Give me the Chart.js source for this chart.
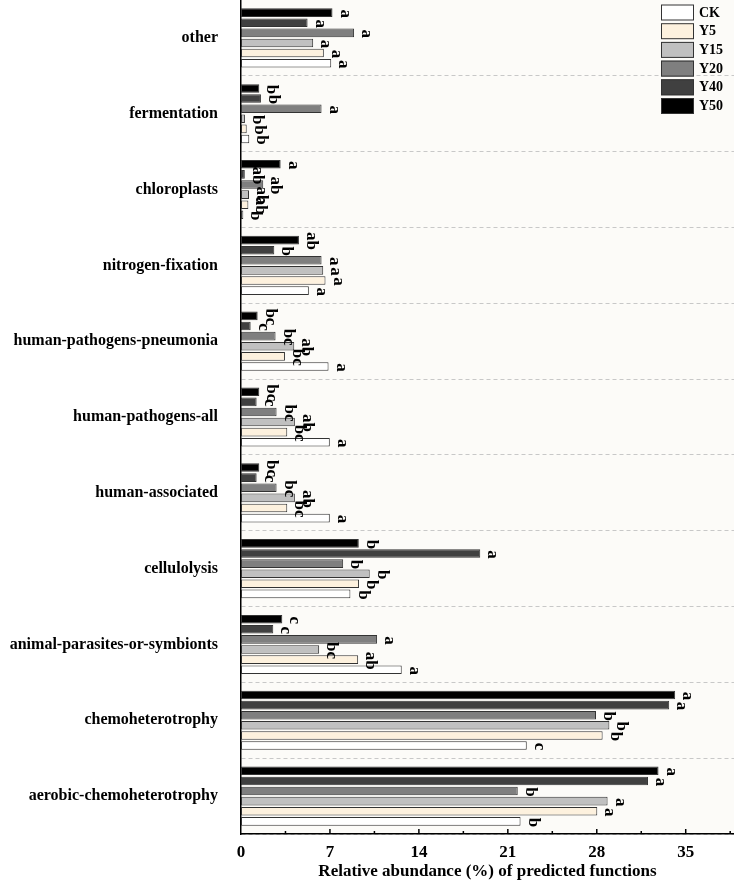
<!DOCTYPE html>
<html>
<head>
<meta charset="utf-8">
<script src="https://cdn.jsdelivr.net/npm/chart.js@4"></script>
<style>
  body { margin: 0; background: #fff; }
  canvas { display: block; }
</style>
</head>
<body>
<canvas id="chart" width="734" height="884"></canvas>
<script>
// categories, top to bottom
const categories = ['other', 'fermentation', 'chloroplasts', 'nitrogen-fixation',
  'human-pathogens-pneumonia', 'human-pathogens-all', 'human-associated', 'cellulolysis',
  'animal-parasites-or-symbionts', 'chemoheterotrophy', 'aerobic-chemoheterotrophy'];

// relative abundance (%) per group
const CK  = [7.1, 0.65, 0.18, 5.34, 6.89, 6.99, 6.99, 8.61, 12.65, 22.49, 22.0];
const Y5  = [6.52, 0.45, 0.58, 6.65, 3.46, 3.64, 3.64, 9.29, 9.22, 28.46, 28.04];
const Y15 = [5.68, 0.31, 0.63, 6.47, 4.19, 4.24, 4.24, 10.13, 6.15, 28.99, 28.85];
const Y20 = [8.9, 6.34, 1.75, 6.34, 2.72, 2.8, 2.8, 8.04, 10.71, 27.94, 21.78];
const Y40 = [5.24, 1.57, 0.3, 2.62, 0.76, 1.23, 1.23, 18.83, 2.54, 33.7, 32.03];
const Y50 = [7.2, 1.44, 3.12, 4.56, 1.31, 1.44, 1.44, 9.27, 3.25, 34.17, 32.86];

// significance letters
const lettersCK  = ['a', 'b', 'b', 'a', 'a', 'a', 'a', 'b', 'a', 'c', 'b'];
const lettersY5  = ['a', 'b', 'ab', 'a', 'bc', 'bc', 'bc', 'b', 'ab', 'b', 'a'];
const lettersY15 = ['a', 'b', 'ab', 'a', 'ab', 'ab', 'ab', 'b', 'bc', 'b', 'a'];
const lettersY20 = ['a', 'a', 'ab', 'a', 'bc', 'bc', 'bc', 'b', 'a', 'b', 'b'];
const lettersY40 = ['a', 'b', 'ab', 'b', 'c', 'c', 'c', 'a', 'c', 'a', 'a'];
const lettersY50 = ['a', 'b', 'a', 'ab', 'bc', 'bc', 'bc', 'b', 'c', 'a', 'a'];

const xTicks = [0, 7, 14, 21, 28, 35];

const serif = '"Liberation Serif", "Times New Roman", serif';

// drawn top-to-bottom inside each category
const groups = [
  {label: 'Y50', data: Y50, letters: lettersY50, color: '#000000'},
  {label: 'Y40', data: Y40, letters: lettersY40, color: '#404040'},
  {label: 'Y20', data: Y20, letters: lettersY20, color: '#7f7f7f'},
  {label: 'Y15', data: Y15, letters: lettersY15, color: '#c0c0c0'},
  {label: 'Y5',  data: Y5,  letters: lettersY5,  color: '#fdf1de'},
  {label: 'CK',  data: CK,  letters: lettersCK,  color: '#ffffff'}
];

const plotBg = {
  id: 'plotBg',
  beforeDraw(chart) {
    const {ctx, chartArea: a} = chart;
    ctx.save();
    ctx.fillStyle = '#fcfbf8';
    ctx.fillRect(a.left, a.top, a.right - a.left, a.bottom - a.top);
    ctx.restore();
  }
};

// inward ticks on the x axis, major every 7, minor in between
const innerTicks = {
  id: 'innerTicks',
  afterDraw(chart) {
    const {ctx} = chart;
    const x = chart.scales.x;
    ctx.save();
    ctx.strokeStyle = '#000';
    ctx.lineWidth = 1.5;
    for (let v = 3.5; v <= x.max; v += 3.5) {
      const px = x.getPixelForValue(v);
      const len = (v % 7 === 0) ? 5 : 3;
      ctx.beginPath();
      ctx.moveTo(px, x.top);
      ctx.lineTo(px, x.top - len);
      ctx.stroke();
    }
    ctx.restore();
  }
};

// letters rotated 90deg clockwise next to each bar
const barLetters = {
  id: 'barLetters',
  afterDatasetsDraw(chart) {
    const {ctx} = chart;
    ctx.save();
    ctx.font = 'bold 17px ' + serif;
    ctx.fillStyle = '#000';
    chart.data.datasets.forEach((ds, i) => {
      const meta = chart.getDatasetMeta(i);
      meta.data.forEach((bar, j) => {
        ctx.save();
        ctx.translate(bar.x + 4, bar.y + 1);
        ctx.rotate(Math.PI / 2);
        ctx.textAlign = 'center';
        ctx.textBaseline = 'bottom';
        ctx.fillText(ds.letters[j], 0, 0);
        ctx.restore();
      });
    });
    ctx.restore();
  }
};

// legend inside the plot, CK first
const boxLegend = {
  id: 'boxLegend',
  afterDraw(chart) {
    const {ctx, chartArea: a} = chart;
    const list = chart.data.datasets.slice().reverse();
    ctx.save();
    ctx.font = 'bold 14px ' + serif;
    ctx.textBaseline = 'middle';
    ctx.textAlign = 'left';
    list.forEach((ds, k) => {
      const bx = a.right - 73, by = a.top + 4.5 + k * 18.7;
      ctx.fillStyle = ds.backgroundColor;
      ctx.fillRect(bx, by, 33, 16);
      ctx.strokeStyle = '#333';
      ctx.lineWidth = 1;
      ctx.strokeRect(bx + 0.5, by + 0.5, 32, 15);
      ctx.fillStyle = '#000';
      ctx.fillText(ds.label, bx + 38, by + 8.5);
    });
    ctx.restore();
  }
};

new Chart(document.getElementById('chart'), {
  type: 'bar',
  data: {
    labels: categories,
    datasets: groups.map(g => ({
      label: g.label,
      data: g.data,
      letters: g.letters,
      backgroundColor: g.color,
      borderColor: '#333',
      borderWidth: 1,
      borderSkipped: false,
      categoryPercentage: 0.8,
      barPercentage: 0.85
    }))
  },
  options: {
    indexAxis: 'y',
    responsive: false,
    animation: false,
    layout: {padding: {top: 0, right: 0, bottom: 0, left: 0}},
    plugins: {
      legend: {display: false},
      tooltip: {enabled: false}
    },
    scales: {
      x: {
        min: 0,
        max: 38.8,
        afterBuildTicks: s => { s.ticks = xTicks.map(v => ({value: v})); },
        afterFit: s => { s.height = 50; s.paddingLeft = 0; s.paddingRight = 0; },
        grid: {display: false, drawTicks: false},
        border: {display: true, color: '#000', width: 1.5},
        ticks: {
          color: '#000',
          padding: 8,
          font: {family: serif, size: 17, weight: 'bold'}
        },
        title: {
          display: true,
          text: 'Relative abundance (%) of predicted functions',
          color: '#000',
          padding: {top: 1, bottom: 2},
          font: {family: serif, size: 17, weight: 'bold'}
        }
      },
      y: {
        afterFit: s => { s.width = 241; s.paddingTop = 0; s.paddingBottom = 0; },
        grid: {
          drawTicks: false,
          color: c => c.index === 0 ? 'rgba(0,0,0,0)' : '#c8c8c8',
          lineWidth: 1
        },
        border: {display: true, color: '#000', width: 1.5, dash: [4, 3]},
        ticks: {
          color: '#000',
          padding: 23,
          font: {family: serif, size: 16, weight: 'bold'}
        }
      }
    }
  },
  plugins: [plotBg, barLetters, innerTicks, boxLegend]
});
</script>
</body>
</html>
